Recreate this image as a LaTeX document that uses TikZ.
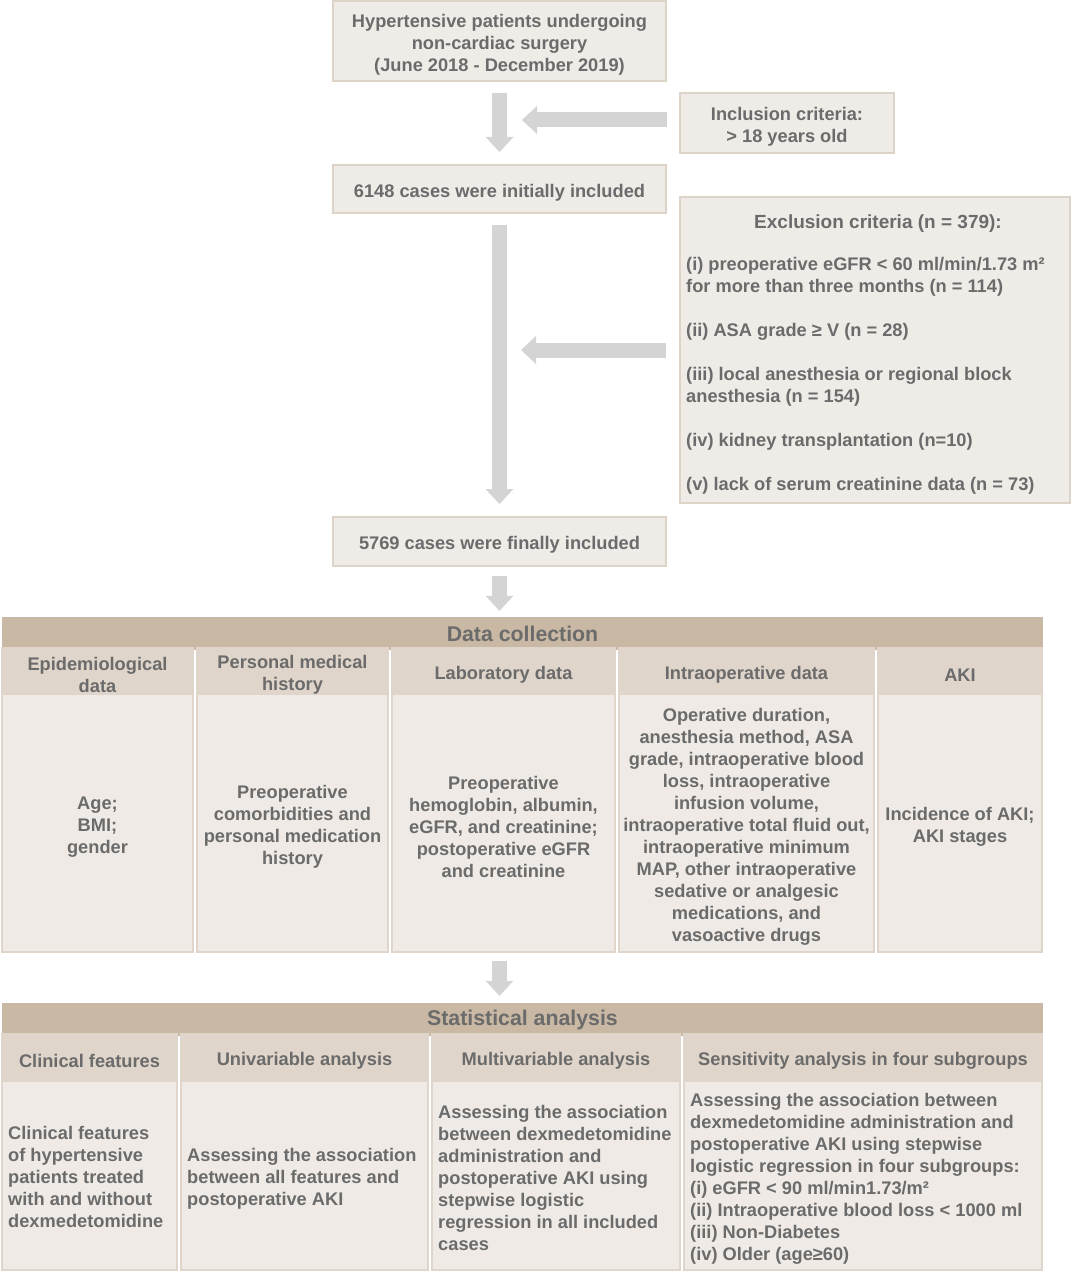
\documentclass[tikz,border=0pt]{standalone}
\usepackage{fontspec}
\setmainfont{Liberation Sans}
\usetikzlibrary{arrows.meta}
\definecolor{boxfill}{HTML}{EFEBE7}
\definecolor{boxline}{HTML}{DDD3C7}
\definecolor{barfill}{HTML}{C9B8A4}
\definecolor{subfill}{HTML}{DFD5CA}
\definecolor{bodyfill}{HTML}{EFEAE5}
\definecolor{txt}{HTML}{6B6B6B}
\definecolor{arrowc}{HTML}{D4D4D4}
\newcommand\myfont{\fontsize{18.25}{22}\selectfont\bfseries}
\newcommand\mybigfont{\fontsize{21.3}{25}\selectfont\bfseries}
\newcommand\mytitlefont{\fontsize{19}{22}\selectfont\bfseries}
\newcommand\topstrut{\rule{0pt}{20pt}}
\begin{document}
\begin{tikzpicture}[x=1pt,y=-1pt,
  flowbox/.style={draw=boxline, line width=2pt, fill=boxfill, text=txt, font=\myfont, align=center, inner sep=0pt,
    execute at begin node={\topstrut}},
  plaintext/.style={text=txt, font=\myfont, inner sep=0pt, yshift=-2pt},
  bar/.style={fill=barfill, text=txt, font=\mybigfont, inner sep=0pt, minimum width=1041, minimum height=33},
  colbody/.style={fill=bodyfill, draw=subfill, line width=2pt, inner sep=0pt},
  colhead/.style={fill=subfill, text=txt, font=\myfont, align=center, inner sep=0pt,
    execute at begin node={\topstrut}},
  blockarrow/.style={draw=arrowc, line width=15pt, -{Triangle[width=28pt,length=15pt,line width=0pt]}}
]
\useasboundingbox[fill=white] (0,0) rectangle (1072,1273);

% ---------- top flow ----------
\node[flowbox, minimum width=333, minimum height=80] (b1) at (499.5,41)
  {\topstrut Hypertensive patients undergoing\\non-cardiac surgery\\(June 2018 - December 2019)};
\node[flowbox, minimum width=214, minimum height=60] (incl) at (787,123)
  {\topstrut Inclusion criteria:\\> 18 years old};
\node[flowbox, minimum width=333, minimum height=48] (b2) at (499.5,189)
  {6148 cases were initially included};
\node[flowbox, minimum width=390, minimum height=306] (excl) at (875,350) {};
\node[plaintext, font=\mytitlefont] (exclt) at (878,222) {Exclusion criteria (n = 379):};
\node[plaintext, align=left, anchor=west] (excli) at (686,373.5)
  {(i) preoperative eGFR < 60 ml/min/1.73 m²\\
   for more than three months (n = 114)\\[22pt]
   (ii) ASA grade ≥ V (n = 28)\\[22pt]
   (iii) local anesthesia or regional block\\
   anesthesia (n = 154)\\[22pt]
   (iv) kidney transplantation (n=10)\\[22pt]
   (v) lack of serum creatinine data (n = 73)};
\node[flowbox, minimum width=333, minimum height=49] (b3) at (499.5,541.5)
  {5769 cases were finally included};

\coordinate (j1) at (522,120);
\coordinate (j2) at (521,350);

\draw[blockarrow, shorten <=11pt, shorten >=12pt] (b1.south) -- (b2.north);
\draw[blockarrow, shorten <=12pt] (incl.west |- j1) -- (j1);
\draw[blockarrow, shorten <=11pt, shorten >=12pt] (b2.south) -- (b3.north);
\draw[blockarrow, shorten <=13pt] (excl.west |- j2) -- (j2);

% ---------- data collection ----------
\node[bar] (dc) at (522.5,633.5) {Data collection};
\draw[blockarrow, shorten <=9pt, shorten >=6pt] (b3.south) -- (b3.south |- dc.north);

\node[colbody, minimum width=191, minimum height=303] (c1) at (97.5,800.5) {};
\node[colbody, minimum width=191, minimum height=303] (c2) at (292.5,800.5) {};
\node[colbody, minimum width=223, minimum height=303] (c3) at (503.5,800.5) {};
\node[colbody, minimum width=255, minimum height=303] (c4) at (746.5,800.5) {};
\node[colbody, minimum width=164, minimum height=303] (c5) at (960,800.5) {};

\node[colhead, minimum width=193, minimum height=48, anchor=north] (h1) at ([yshift=1pt]c1.north) {\topstrut Epidemiological\\data};
\node[colhead, minimum width=193, minimum height=48, anchor=north] (h2) at ([yshift=1pt]c2.north) {\topstrut Personal medical\\history};
\node[colhead, minimum width=225, minimum height=48, anchor=north] (h3) at ([yshift=1pt]c3.north) {Laboratory data};
\node[colhead, minimum width=257, minimum height=48, anchor=north] (h4) at ([yshift=1pt]c4.north) {Intraoperative data};
\node[colhead, minimum width=166, minimum height=48, anchor=north] (h5) at ([yshift=1pt]c5.north) {AKI};

\node[plaintext, align=center] (t1) at (97.5,825) {Age;\\BMI;\\gender};
\node[plaintext, align=center] (t2) at (292.5,825) {Preoperative\\comorbidities and\\personal medication\\history};
\node[plaintext, align=center] (t3) at (503.5,825) {Preoperative\\hemoglobin, albumin,\\eGFR, and creatinine;\\postoperative eGFR\\and creatinine};
\node[plaintext, align=center] (t4) at (746.5,825) {Operative duration,\\anesthesia method, ASA\\grade, intraoperative blood\\loss, intraoperative\\infusion volume,\\intraoperative total fluid out,\\intraoperative minimum\\MAP, other intraoperative\\sedative or analgesic\\medications, and\\vasoactive drugs};
\node[plaintext, align=center] (t5) at (960,825) {Incidence of AKI;\\AKI stages};

% ---------- statistical analysis ----------
\node[bar] (sa) at (522.5,1019.5) {Statistical analysis};
\draw[blockarrow, shorten <=8pt, shorten >=7pt] (b3.south |- c3.south) -- (b3.south |- sa.north);

\node[colbody, minimum width=175, minimum height=235] (s1) at (89.5,1152.5) {};
\node[colbody, minimum width=247, minimum height=235] (s2) at (304.5,1152.5) {};
\node[colbody, minimum width=248, minimum height=235] (s3) at (556,1152.5) {};
\node[colbody, minimum width=358, minimum height=235] (s4) at (863,1152.5) {};

\node[colhead, minimum width=177, minimum height=49, anchor=north] (g1) at ([yshift=1pt]s1.north) {Clinical features};
\node[colhead, minimum width=249, minimum height=49, anchor=north] (g2) at ([yshift=1pt]s2.north) {Univariable analysis};
\node[colhead, minimum width=250, minimum height=49, anchor=north] (g3) at ([yshift=1pt]s3.north) {Multivariable analysis};
\node[colhead, minimum width=360, minimum height=49, anchor=north] (g4) at ([yshift=1pt]s4.north) {Sensitivity analysis in four subgroups};

\node[plaintext, align=left, anchor=west] (u1) at (8,1175) {Clinical features\\of hypertensive\\patients treated\\with and without\\dexmedetomidine};
\node[plaintext, align=left, anchor=west] (u2) at (187,1177) {Assessing the association\\between all features and\\postoperative AKI};
\node[plaintext, align=left, anchor=west] (u3) at (438,1176) {Assessing the association\\between dexmedetomidine\\administration and\\postoperative AKI using\\stepwise logistic\\regression in all included\\cases};
\node[plaintext, align=left, anchor=west] (u4) at (690,1177) {Assessing the association between\\dexmedetomidine administration and\\postoperative AKI using stepwise\\logistic regression in four subgroups:\\(i) eGFR < 90 ml/min1.73/m²\\(ii) Intraoperative blood loss < 1000 ml\\(iii) Non-Diabetes\\(iv) Older (age≥60)};
\end{tikzpicture}
\end{document}
